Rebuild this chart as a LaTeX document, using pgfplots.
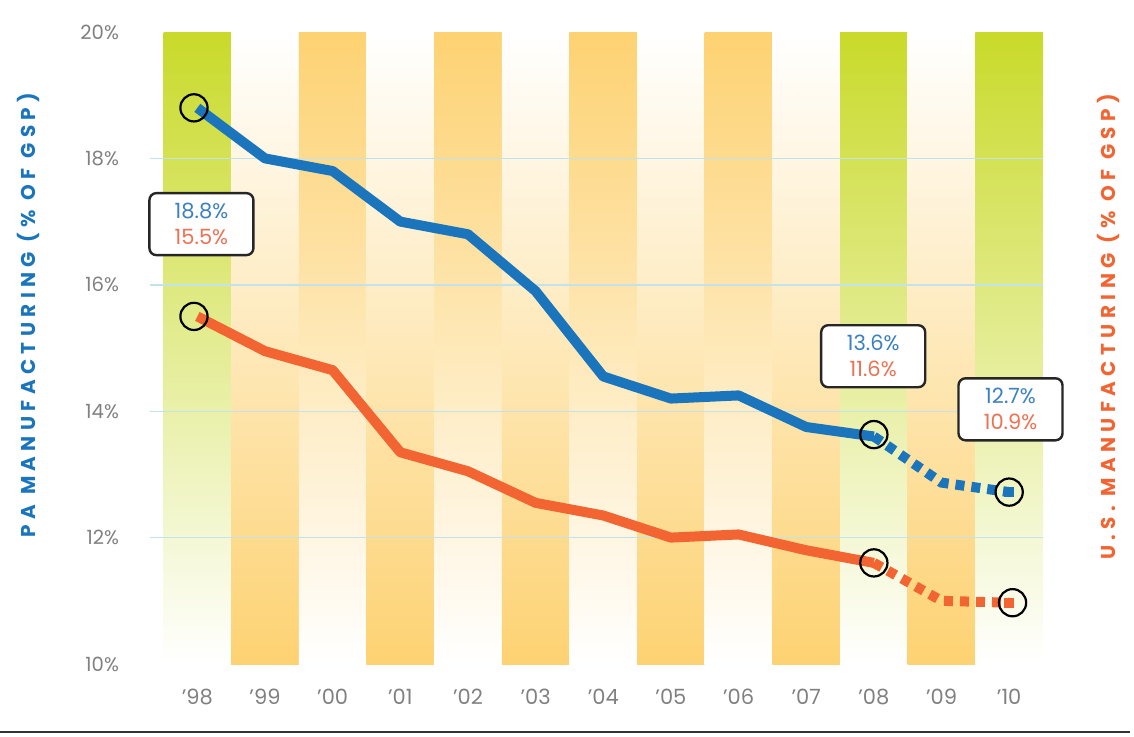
\documentclass[border=0pt]{standalone}
\usepackage{pgfplots}
\pgfplotsset{compat=1.18}
\usepackage{fontspec}
\setmainfont{Poppins}
\newfontfamily\labfont{Poppins}[LetterSpace=27]
\definecolor{lblue}{HTML}{1B75BC}
\definecolor{lorng}{HTML}{F26532}
\definecolor{tblue}{HTML}{3A80C2}
\definecolor{torng}{HTML}{EE7152}
\definecolor{gcol}{HTML}{C9DA2A}
\definecolor{ocol}{HTML}{FDD272}
\definecolor{gridc}{HTML}{C2E2EC}
\definecolor{tgray}{HTML}{808080}

% PA manufacturing share (% of GSP)
\pgfplotstableread{
x y
0 18.8
1 18.0
2 17.8
3 17.0
4 16.8
5 15.9
6 14.55
7 14.2
8 14.25
9 13.75
10 13.6
}\pasolid
\pgfplotstableread{
x y
10 13.6
11 12.87
12 12.72
}\padash
% US manufacturing share
\pgfplotstableread{
x y
0 15.5
1 14.95
2 14.65
3 13.35
4 13.05
5 12.55
6 12.35
7 12.0
8 12.05
9 11.8
10 11.6
}\ussolid
\pgfplotstableread{
x y
10 11.6
11 11.0
12 10.97
}\usdash

\begin{document}
\begin{tikzpicture}
\useasboundingbox (-75pt,-36pt) rectangle (492pt,332pt);
\begin{axis}[
  at={(0pt,0pt)}, anchor=south west,
  scale only axis, width=446.5pt, height=316pt,
  xmin=-0.7, xmax=12.5, ymin=10, ymax=20,
  clip=false,
  axis line style={draw=none},
  major tick length=0pt,
  xtick={0,...,12},
  xticklabels={’98,’99,’00,’01,’02,’03,’04,’05,’06,’07,’08,’09,’10},
  ytick={10,12,14,16,18,20},
  yticklabels={10\%,12\%,14\%,16\%,18\%,20\%},
  yticklabel style={anchor=east, xshift=-12pt, text=tgray, font=\fontsize{9.8}{11}\selectfont},
  xticklabel style={anchor=north, yshift=-9pt, text=tgray, font=\fontsize{10.5}{12}\selectfont},
]
% background columns
\addplot[draw=none, forget plot, top color=gcol, middle color=gcol!62, bottom color=white] coordinates {(-0.5,10) (-0.5,20) (0.5,20) (0.5,10)} -- cycle;
\addplot[draw=none, forget plot, top color=white, middle color=ocol!50, bottom color=ocol] coordinates {(0.5,10) (0.5,20) (1.5,20) (1.5,10)} -- cycle;
\addplot[draw=none, forget plot, top color=ocol, middle color=ocol!42, bottom color=white] coordinates {(1.5,10) (1.5,20) (2.5,20) (2.5,10)} -- cycle;
\addplot[draw=none, forget plot, top color=white, middle color=ocol!50, bottom color=ocol] coordinates {(2.5,10) (2.5,20) (3.5,20) (3.5,10)} -- cycle;
\addplot[draw=none, forget plot, top color=ocol, middle color=ocol!42, bottom color=white] coordinates {(3.5,10) (3.5,20) (4.5,20) (4.5,10)} -- cycle;
\addplot[draw=none, forget plot, top color=white, middle color=ocol!50, bottom color=ocol] coordinates {(4.5,10) (4.5,20) (5.5,20) (5.5,10)} -- cycle;
\addplot[draw=none, forget plot, top color=ocol, middle color=ocol!42, bottom color=white] coordinates {(5.5,10) (5.5,20) (6.5,20) (6.5,10)} -- cycle;
\addplot[draw=none, forget plot, top color=white, middle color=ocol!50, bottom color=ocol] coordinates {(6.5,10) (6.5,20) (7.5,20) (7.5,10)} -- cycle;
\addplot[draw=none, forget plot, top color=ocol, middle color=ocol!42, bottom color=white] coordinates {(7.5,10) (7.5,20) (8.5,20) (8.5,10)} -- cycle;
\addplot[draw=none, forget plot, top color=white, middle color=ocol!50, bottom color=ocol] coordinates {(8.5,10) (8.5,20) (9.5,20) (9.5,10)} -- cycle;
\addplot[draw=none, forget plot, top color=gcol, middle color=gcol!62, bottom color=white] coordinates {(9.5,10) (9.5,20) (10.5,20) (10.5,10)} -- cycle;
\addplot[draw=none, forget plot, top color=white, middle color=ocol!50, bottom color=ocol] coordinates {(10.5,10) (10.5,20) (11.5,20) (11.5,10)} -- cycle;
\addplot[draw=none, forget plot, top color=gcol, middle color=gcol!62, bottom color=white] coordinates {(11.5,10) (11.5,20) (12.5,20) (12.5,10)} -- cycle;
% grid lines
\addplot[gridc, line width=0.7pt, forget plot] coordinates {(-0.7,12) (12.5,12)};
\addplot[gridc, line width=0.7pt, forget plot] coordinates {(-0.7,14) (12.5,14)};
\addplot[gridc, line width=0.7pt, forget plot] coordinates {(-0.7,16) (12.5,16)};
\addplot[gridc, line width=0.7pt, forget plot] coordinates {(-0.7,18) (12.5,18)};
% data
\addplot[lblue, line width=5pt, line join=round, no marks] table {\pasolid};
\addplot[lblue, line width=5pt, dash pattern=on 4.5pt off 3.5pt, mark=square*, mark indices={3}, mark size=2.3pt, mark options={solid, line width=0pt, fill=lblue, draw=none}] table {\padash};
\addplot[lorng, line width=5pt, line join=round, no marks] table {\ussolid};
\addplot[lorng, line width=5pt, dash pattern=on 4.5pt off 3.5pt, mark=square*, mark indices={3}, mark size=2.3pt, mark options={solid, line width=0pt, fill=lorng, draw=none}] table {\usdash};
% highlight circles
\addplot[only marks, mark=o, mark size=6.8pt, mark options={black, line width=1.1pt}] coordinates {(-0.05,18.8) (-0.05,15.5) (10.0,13.63) (10.0,11.6) (12.0,12.72) (12.05,10.97)};
% callouts
\tikzset{callout/.style={draw=black!85, line width=1.2pt, rounded corners=3.5pt, fill=white, minimum width=52pt, minimum height=31pt, align=center, inner sep=1pt, font=\fontsize{10.5}{13}\selectfont}}
\node[callout] at (axis cs:0.06,16.96) {\textcolor{tblue}{18.8\%}\\\textcolor{torng}{15.5\%}};
\node[callout] at (axis cs:9.99,14.87) {\textcolor{tblue}{13.6\%}\\\textcolor{torng}{11.6\%}};
\node[callout] at (axis cs:12.02,14.03) {\textcolor{tblue}{12.7\%}\\\textcolor{torng}{10.9\%}};
\end{axis}
\node[rotate=90, text=lblue, font=\labfont\bfseries\fontsize{10}{12}\selectfont] at (-61pt,174.5pt) {PA MANUFACTURING (\% OF GSP)};
\node[rotate=90, text=lorng, font=\labfont\bfseries\fontsize{10}{12}\selectfont] at (479pt,168.5pt) {U.S. MANUFACTURING (\% OF GSP)};
\draw[black!80, line width=1.4pt] (-75pt,-34pt) -- (490pt,-34pt);
\end{tikzpicture}
\end{document}
